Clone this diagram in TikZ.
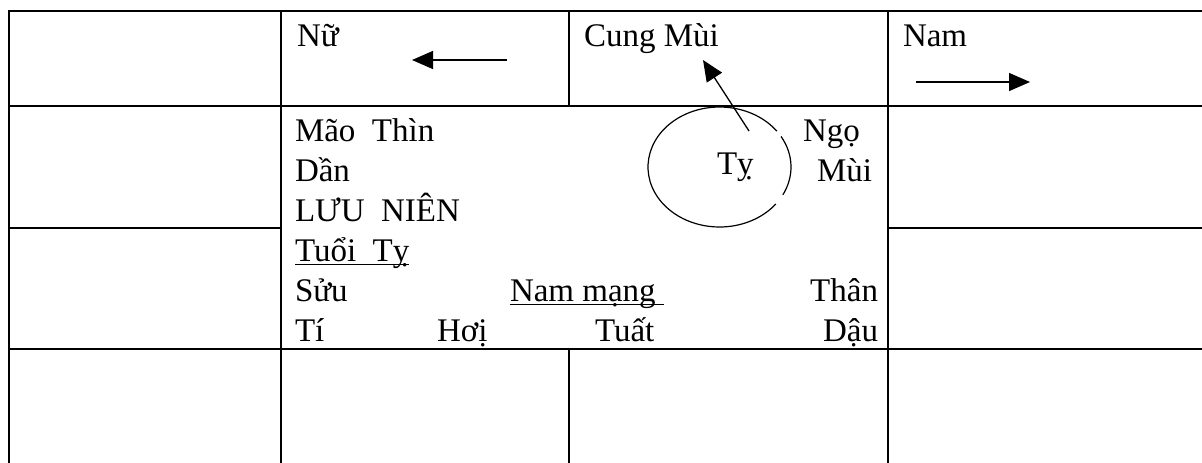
\documentclass[tikz,border=0pt]{standalone}
\usepackage{fontspec}
\setmainfont{Liberation Serif}
\usetikzlibrary{arrows.meta}
\newcommand\ulx[1]{\setbox0\hbox{#1}\rlap{\rule[-2.2pt]{\wd0}{0.75pt}}\box0}
\tikzset{
  txt/.style={inner sep=0pt, outer sep=0pt, font=\fontsize{16.5}{20}\selectfont},
  grid/.style={line width=1pt, line cap=rect},
  arr/.style={line width=0.65pt, -{Triangle[length=10.5pt,width=9pt]}},
  ell/.style={line width=0.6pt}
}
\begin{document}
\begin{tikzpicture}[x=0.5pt,y=-0.5pt]
\useasboundingbox (0,0) rectangle (1202,462);
% table lines
\draw[grid] (9,11) -- (1202,11);
\draw[grid] (9,106) -- (1202,106);
\draw[grid] (9,228) -- (281,228);
\draw[grid] (888,228) -- (1202,228);
\draw[grid] (9,349) -- (1202,349);
\draw[grid] (9,11) -- (9,462);
\draw[grid] (281,11) -- (281,462);
\draw[grid] (569,11) -- (569,106);
\draw[grid] (569,349) -- (569,462);
\draw[grid] (888,11) -- (888,462);
% top row
\node[txt, anchor=base west] (nu) at (297,46) {Nữ};
\node[txt, anchor=base west] (cung) at (584,46) {Cung Mùi};
\node[txt, anchor=base west] (nam) at (903,46) {Nam};
\coordinate (nuA) at (507,60);
\coordinate (nuB) at (412,60);
\draw[arr] (nuA) -- (nuB);
\coordinate (namA) at (916,82);
\coordinate (namB) at (1030,82);
\draw[arr] (namA) -- (namB);
% middle block
\node[txt, anchor=base west] (mao) at (295,141) {Mão\ \ Thìn};
\node[txt, anchor=base west] (dan) at (295,181) {Dần};
\node[txt, anchor=base west] (luu) at (295,221) {LƯU\ \ NIÊN};
\node[txt, anchor=base west] (tuoi) at (295,261) {\ulx{Tuổi\ \ Tỵ}};
\node[txt, anchor=base west] (suu) at (295,301) {Sửu};
\node[txt, anchor=base west] (nmang) at (510,301) {\ulx{Nam mạng\ }};
\node[txt, anchor=base east] (than) at (878,301) {Thân};
\node[txt, anchor=base west] (ti) at (295,341) {Tí};
\node[txt, anchor=base west] (hoi) at (437,341) {Hơị};
\node[txt, anchor=base west] (tuat) at (595,341) {Tuất};
\node[txt, anchor=base east] (dau) at (878,341) {Dậu};
\node[txt, anchor=base west] (ngo) at (803,141) {Ngọ};
\node[txt, anchor=base west] (mui) at (817,181) {Mùi};
\node[txt, anchor=base west] (ty) at (717,174) {Tỵ};
% ellipse with two small gaps on the right
\coordinate (ec) at (719.5,167);
\draw[ell] ([shift={(36.7:35.75pt and 30pt)}]ec) arc[start angle=36.7, end angle=322, x radius=35.75pt, y radius=30pt];
\draw[ell] ([shift={(-27.7:35.75pt and 30pt)}]ec) arc[start angle=-27.7, end angle=30.6, x radius=35.75pt, y radius=30pt];
% diagonal arrow
\coordinate (dtail) at (749,131);
\coordinate (dhead) at (703,60);
\draw[arr] (dtail) -- (dhead);
\end{tikzpicture}
\end{document}
